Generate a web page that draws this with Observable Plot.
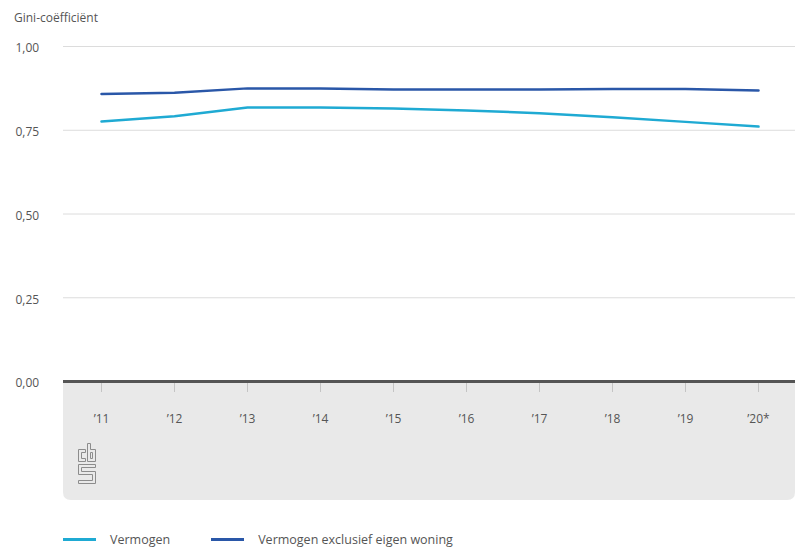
<!DOCTYPE html>
<html>
<head>
<meta charset="utf-8">
<script src="https://cdn.jsdelivr.net/npm/d3@7"></script>
<script src="https://cdn.jsdelivr.net/npm/@observablehq/plot@0.6"></script>
<style>
  html, body { margin: 0; padding: 0; background: #fff; }
  body { width: 798px; height: 553px; position: relative; overflow: hidden; font-family: "Open Sans", sans-serif; color: #555; }
  #title { position: absolute; left: 14px; top: 9px; font-size: 12px; color: #555; }
  #chart { position: absolute; left: 0; top: 0; }
  #legend { position: absolute; left: 63px; top: 531px; font-size: 12.5px; color: #555; display: flex; align-items: center; }
  .item { display: flex; align-items: center; margin-right: 41px; }
  .sw { width: 33px; height: 3px; margin-right: 14px; }
</style>
</head>
<body>
<div id="chart"></div>
<div id="title">Gini-coëfficiënt</div>
<div id="legend"></div>
<script>
const years = ["’11", "’12", "’13", "’14", "’15", "’16", "’17", "’18", "’19", "’20*"];
const seriesNames = ["Vermogen", "Vermogen exclusief eigen woning"];
const vermogen = [0.776, 0.792, 0.818, 0.818, 0.815, 0.809, 0.801, 0.789, 0.775, 0.761];
const exclusief = [0.858, 0.862, 0.875, 0.875, 0.872, 0.872, 0.872, 0.873, 0.873, 0.869];
const yTicks = [0, 0.25, 0.5, 0.75, 1];
const colors = ["#1faad3", "#2a57a8"];

const data = [
  ...years.map((y, i) => ({year: y, value: vermogen[i], series: seriesNames[0]})),
  ...years.map((y, i) => ({year: y, value: exclusief[i], series: seriesNames[1]}))
];

const fmt = d => d3.format(".2f")(d).replace(".", ",");

const plot = Plot.plot({
  width: 798,
  height: 510,
  marginLeft: 63,
  marginRight: 3,
  marginTop: 46,
  marginBottom: 129,
  style: {fontFamily: "Open Sans, sans-serif", fontSize: "12px", color: "#555", background: "transparent"},
  x: {type: "point", domain: years, padding: 0.5},
  y: {domain: [0, 1]},
  color: {domain: seriesNames, range: colors},
  marks: [
    Plot.gridY(yTicks.filter(d => d > 0), {stroke: "#dcdcdc", strokeOpacity: 1, strokeWidth: 1}),
    Plot.axisY(yTicks, {tickSize: 0, tickPadding: 0, textAnchor: "start", dx: -48, dy: 2, tickFormat: fmt, label: null, fill: "#555"}),
    Plot.axisX({tickSize: 11, tickPadding: 22, label: null, stroke: "#c4c4c4", fill: "#555", fontSize: 12}),
    Plot.ruleY([0], {stroke: "#555", strokeWidth: 3}),
    Plot.lineY(data, {x: "year", y: "value", stroke: "series", strokeWidth: 2.5, curve: "linear"})
  ]
});

// grey footer panel behind the x axis
const svg = d3.select(plot);
const [x0, x1] = plot.scale("x").range;
const yZero = plot.scale("y").apply(0);
const panelH = 500 - yZero;
const g = svg.insert("g", ":first-child");
const r = 8;
g.append("path")
  .attr("d", `M${x0},${yZero} H${x1} V${yZero + panelH - r} Q${x1},${yZero + panelH} ${x1 - r},${yZero + panelH} H${x0 + r} Q${x0},${yZero + panelH} ${x0},${yZero + panelH - r} Z`)
  .attr("fill", "#e9e9e9");
// CBS logo (approximation)
const lg = g.append("g").attr("transform", `translate(${x0 + 15.5},${yZero + 62.5})`).attr("fill", "none").attr("stroke", "#8c8c8c").attr("stroke-width", 1);
lg.append("path").attr("d", "M0,6 H7 V9 H3 V15 H7 V18 H0 Z");
lg.append("path").attr("d", "M9,0 H12 V6 H17 V18 H9 Z M12,9 V15 H14 V9 Z");
lg.append("path").attr("d", "M0,21 H17 V24 H3 V28 H17 V40 H0 V37 H14 V31 H0 Z");

document.getElementById("chart").appendChild(plot);

const legend = d3.select("#legend");
seriesNames.forEach((s, i) => {
  const it = legend.append("div").attr("class", "item");
  it.append("div").attr("class", "sw").style("background", colors[i]);
  it.append("span").text(s);
});
</script>
</body>
</html>
